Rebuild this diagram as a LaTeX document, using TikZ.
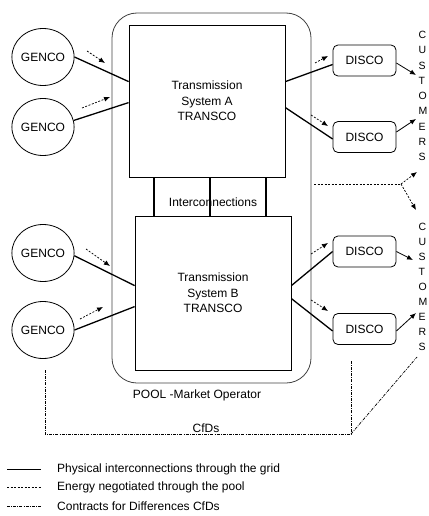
\documentclass[tikz,border=0pt]{standalone}
\usepackage{fontspec}
\setmainfont{Liberation Sans}
\usetikzlibrary{shapes.geometric,arrows.meta,calc}
\begin{document}
\begin{tikzpicture}[x=1pt,y=-1pt,
  every node/.style={font=\fontsize{12}{15.5}\selectfont},
  genco/.style={ellipse,draw,line width=0.8pt,minimum width=61pt,minimum height=57pt,inner sep=0pt},
  disco/.style={rectangle,rounded corners=5pt,draw,line width=0.8pt,minimum width=63pt,minimum height=31pt,inner sep=0pt},
  transco/.style={rectangle,draw,line width=0.8pt,align=center,inner sep=0pt},
  phys/.style={line width=1.3pt},
  energy/.style={line width=0.7pt,dash pattern=on 2pt off 1.5pt,-{Latex[length=6pt,width=5pt]}},
  energyline/.style={line width=0.7pt,dash pattern=on 2pt off 1.5pt},
  cfd/.style={line width=0.7pt,dash pattern=on 3pt off 1.2pt on 0.8pt off 1.2pt},
  cust/.style={line width=0.8pt,-{Latex[length=6pt,width=5pt]}},
  label/.style={inner sep=0pt}
]
\useasboundingbox (0,0) rectangle (428,516);

% pool
\draw[line width=0.8pt,draw=black!75,rounded corners=25pt] (112,13) rectangle (311,383);
\node[label] (pool) at (197,395) {POOL -Market Operator};

% transmission systems
\node[transco,minimum width=156pt,minimum height=152pt] (A) at (207,101) {Transmission\\System A\\TRANSCO};
\node[transco,minimum width=156pt,minimum height=154pt] (B) at (213,293) {Transmission\\System B\\TRANSCO};

% interconnections
\draw[line width=1.1pt] (154,177) -- (154,216);
\draw[line width=1.1pt] (210,177) -- (210,216);
\draw[line width=1.1pt] (266,177) -- (266,216);
\node[label] (ic) at (213,202) {Interconnections};

% gencos
\node[genco] (g1) at (43,57) {GENCO};
\node[genco] (g2) at (43,127) {GENCO};
\node[genco] (g3) at (43,253) {GENCO};
\node[genco] (g4) at (43,330) {GENCO};

% discos
\node[disco] (d1) at (364.5,60.5) {DISCO};
\node[disco] (d2) at (364.5,137) {DISCO};
\node[disco] (d3) at (364.5,251.5) {DISCO};
\node[disco] (d4) at (364.5,329) {DISCO};

% customers
\node[label,anchor=north west,align=left,font=\fontsize{10.5}{15.25}\selectfont] (cu1) at (418.5,31.2) {C\\U\\S\\T\\O\\M\\E\\R\\S};
\node[label,anchor=north west,align=left,font=\fontsize{10.5}{15}\selectfont] (cu2) at (418.5,223.2) {C\\U\\S\\T\\O\\M\\E\\R\\S};

% physical lines
\draw[phys] (g1.east) -- ([yshift=-57pt]A.north west);
\draw[phys] (g2.12) -- ([yshift=-78pt]A.north west);
\draw[phys] (g3.-5) -- ([yshift=-70pt]B.north west);
\draw[phys] (g4.east) -- ([yshift=-91pt]B.north west);
\draw[phys] ([yshift=-57pt]A.north east) -- ([yshift=-4pt]d1.west);
\draw[phys] ([yshift=-83pt]A.north east) -- ([yshift=-2pt]d2.west);
\draw[phys] ([yshift=-70pt]B.north east) -- (d3.west);
\draw[phys] ([yshift=-83pt]B.north east) -- ([yshift=-2pt]d4.west);

% energy through pool
\draw[energy] (87,51) -- (105,63);
\draw[energy] (82,108) -- (110,97);
\draw[energy] (86,249) -- (110,266);
\draw[energy] (80,319) -- (103,307);
\draw[energy] (315,63) -- (328,56);
\draw[energy] (311,115) -- (328,126);
\draw[energy] (311,254) -- (328,243);
\draw[energy] (311,300) -- (328,311);

% disco to customers
\coordinate (c1) at (416,75);
\coordinate (c2) at (416,119);
\coordinate (c3) at (413,260);
\coordinate (c4) at (416,313);
\draw[cust] ([yshift=-2.5pt]d1.east) -- (c1);
\draw[cust] ([yshift=5pt]d2.east) -- (c2);
\draw[cust] (d3.east) -- (c3);
\draw[cust] ([yshift=-2pt]d4.east) -- (c4);

% pool to customers
\coordinate (pj) at (401,184);
\coordinate (pu) at (417,172);
\coordinate (pd) at (416,210);
\draw[energyline] (314,184) -- (pj);
\draw[energy] (pj) -- (pu);
\draw[energy] (pj) -- (pd);

% CfDs
\coordinate (cf0) at (45,370);
\coordinate (cf1) at (45,434);
\coordinate (cf2) at (351,434);
\coordinate (cf3) at (351,360);
\coordinate (cf4) at (417,357);
\draw[cfd] (cf0) -- (cf1) -- (cf2) -- (cf3);
\draw[cfd] (cf2) -- (cf4);
\node[label] (cfds) at (206,428) {CfDs};

% legend
\coordinate (l1a) at (7,469); \coordinate (l1b) at (41,469);
\coordinate (l2a) at (7,487); \coordinate (l2b) at (41,487);
\coordinate (l3a) at (7,506); \coordinate (l3b) at (41,506);
\draw[line width=1pt] (l1a) -- (l1b);
\draw[energyline] (l2a) -- (l2b);
\draw[cfd] (l3a) -- (l3b);
\node[label,anchor=west,font=\fontsize{12}{14}\selectfont] (t1) at (57,469) {Physical interconnections through the grid};
\node[label,anchor=west,font=\fontsize{12}{14}\selectfont] (t2) at (57,487) {Energy negotiated through the pool};
\node[label,anchor=west,font=\fontsize{12}{14}\selectfont] (t3) at (57,506) {Contracts for Differences CfDs};
\end{tikzpicture}
\end{document}
